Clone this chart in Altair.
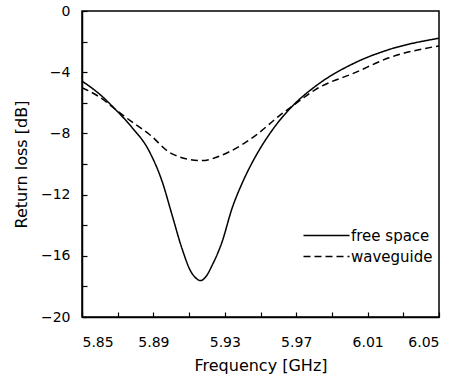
import altair as alt
import pandas as pd

# Free space (solid)
freq_fs = [5.850, 5.860, 5.8686, 5.878, 5.8875, 5.895, 5.9005, 5.906, 5.911, 5.9135,
           5.9165, 5.9195, 5.923, 5.9285, 5.934, 5.940, 5.9475, 5.957, 5.968, 5.981,
           6.003, 6.022, 6.050]
db_fs = [-4.58, -5.45, -6.42, -7.61, -9.13, -11.18, -13.35, -15.52, -17.03, -17.42,
         -17.62, -17.35, -16.6, -15.08, -12.92, -11.18, -9.45, -7.72, -6.2, -4.9,
         -3.38, -2.52, -1.78]

# Waveguide (dashed)
freq_wg = [5.850, 5.860, 5.8686, 5.878, 5.8875, 5.9005, 5.9165, 5.932, 5.9475, 5.9605,
           5.968, 5.981, 6.003, 6.022, 6.050]
db_wg = [-5.01, -5.64, -6.42, -7.25, -8.04, -9.34, -9.78, -9.23, -8.11, -6.85,
         -6.2, -5.12, -4.03, -3.06, -2.28]

series_names = ["free space", "waveguide"]
x_ticks = [5.85, 5.87, 5.89, 5.91, 5.93, 5.95, 5.97, 5.99, 6.01, 6.03, 6.05]
y_ticks = [0, -2, -4, -6, -8, -10, -12, -14, -16, -18, -20]

df = pd.concat([
    pd.DataFrame({"f": freq_fs, "rl": db_fs, "s": series_names[0]}),
    pd.DataFrame({"f": freq_wg, "rl": db_wg, "s": series_names[1]}),
])

FONT = "DejaVu Sans"

chart = alt.Chart(df).mark_line(
    color="black", strokeWidth=1.5, interpolate="monotone", clip=True
).encode(
    x=alt.X("f:Q", scale=alt.Scale(domain=[5.85, 6.05], nice=False, zero=False),
            axis=alt.Axis(values=x_ticks, format=".2f", title="Frequency [GHz]",
                          labelExpr="round(datum.value*100) % 4 == 1 ? datum.label : ''",
                          tickSize=alt.ExprRef(expr="-5"), labelPadding=23,
                          titlePadding=8, grid=False)),
    y=alt.Y("rl:Q", scale=alt.Scale(domain=[-20, 0], nice=False),
            axis=alt.Axis(values=y_ticks, title="Return loss [dB]",
                          labelExpr="datum.value % 4 == 0 ? datum.label : ''",
                          tickSize=alt.ExprRef(expr="-5"), labelPadding=17,
                          titlePadding=11, grid=False)),
    strokeDash=alt.StrokeDash("s:N",
        scale=alt.Scale(domain=series_names, range=[[1, 0], [7, 4]]),
        legend=alt.Legend(title=None, orient="none", legendX=232, legendY=212,
                          symbolType="M-2,0L2,0", symbolSize=529, symbolStrokeWidth=1.5,
                          symbolStrokeColor="black", labelFontSize=15, labelFont=FONT,
                          labelColor="black", rowPadding=0, labelOffset=12)),
).properties(
    width=357, height=306, background="white",
    padding={"left": 82, "top": 11, "right": 20, "bottom": 64},
    autosize=alt.AutoSizeParams(type="none"),
).configure_view(
    stroke="black", strokeWidth=1.5
).configure_axis(
    domainColor="black", domainWidth=1.5, tickColor="black", tickWidth=1.2,
    labelFont=FONT, titleFont=FONT, labelFontSize=14, titleFontSize=16,
    labelColor="black", titleColor="black", titleFontWeight="normal"
)

chart.save("out.html", embed_options={"renderer": "svg", "actions": False})
